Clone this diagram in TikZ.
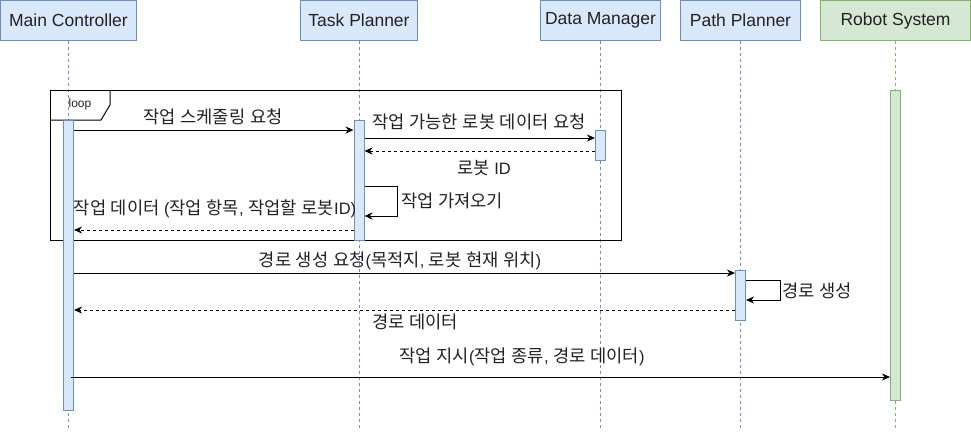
\documentclass[tikz,border=0pt]{standalone}
\usepackage{fontspec}
\setmainfont{Liberation Sans}
\newfontfamily\krfont[Scale=1.07]{Noto Sans CJK KR}
\usetikzlibrary{arrows.meta,calc}
\XeTeXinterchartokenstate=1
\newXeTeXintercharclass\KrClass
\count255="AC00
\loop\XeTeXcharclass\count255=\KrClass\ifnum\count255<"D7A3 \advance\count255 by 1 \repeat
\XeTeXinterchartoks 0 \KrClass={\begingroup\krfont}
\XeTeXinterchartoks 4095 \KrClass={\begingroup\krfont}
\XeTeXinterchartoks \KrClass 0={\endgroup}
\XeTeXinterchartoks \KrClass 4095={\endgroup}
\definecolor{fillblue}{HTML}{DAE8FC}
\definecolor{lineblue}{HTML}{6C8EBF}
\definecolor{fillgreen}{HTML}{D5E8D4}
\definecolor{linegreen}{HTML}{82B366}
\definecolor{txt}{HTML}{222222}
\begin{document}
\begin{tikzpicture}[x=1pt,y=-1pt,
 hdrblue/.style={draw=lineblue, fill=fillblue, line width=1pt, inner sep=0pt, anchor=north west, minimum height=40pt, font=\fontsize{17.5}{20}\selectfont, text=txt},
 hdrgreen/.style={hdrblue, draw=linegreen, fill=fillgreen},
 life/.style={draw=lineblue, line width=1pt, dash pattern=on 3pt off 3pt},
 lifegreen/.style={life, draw=linegreen},
 actblue/.style={draw=lineblue, fill=fillblue, line width=1pt, minimum width=10pt, inner sep=0pt, anchor=north},
 actgreen/.style={actblue, draw=linegreen, fill=fillgreen},
 msg/.style={draw=black, line width=1pt, -{Stealth[length=8pt,width=7pt,inset=2.5pt]}},
 ret/.style={msg, dash pattern=on 3pt off 3pt},
 lbl/.style={font=\fontsize{16.5}{18}\selectfont, inner sep=0pt, anchor=base, text=txt},
 frame/.style={draw=black, line width=1pt}
]
\useasboundingbox (0,0) rectangle (971,432);
% headers
\node[hdrblue, minimum width=136pt] (mc) at (0,0) {Main Controller};
\node[hdrblue, minimum width=117pt] (tp) at (300,0) {Task Planner};
\node[hdrblue, minimum width=120pt] (dm) at (540,0) {Data Manager};
\node[hdrblue, minimum width=120pt] (pp) at (680,0) {Path Planner};
\node[hdrgreen, minimum width=150pt] (rs) at (820,0) {Robot System};
\coordinate (bot) at (0,428);
% lifelines
\draw[life] (mc.south) -- (mc.south |- bot);
\draw[life] (tp.south) -- (tp.south |- bot);
\draw[life] (dm.south) -- (dm.south |- bot);
\draw[life] (pp.south) -- (pp.south |- bot);
\draw[lifegreen] (rs.south) -- (rs.south |- bot);
% loop frame
\node[frame, minimum width=571pt, minimum height=150pt, inner sep=0pt, anchor=north west] (loopf) at (50,90) {};
\draw[frame] (110,90) -- (110,105) -- (101,120) -- (50,120);
\node[font=\fontsize{12}{13}\selectfont, inner sep=0pt, text=txt] (looplbl) at (80,104) {loop};
% activations
\node[actblue, minimum height=290pt] (mcA) at (mc.south |- {(0,120)}) {};
\node[actblue, minimum height=120pt] (tpA) at (tp.south |- {(0,120)}) {};
\node[actblue, minimum height=30pt] (dmA) at (dm.south |- {(0,130)}) {};
\node[actblue, minimum height=50pt] (ppA) at (pp.south |- {(0,270)}) {};
\node[actgreen, minimum height=310pt] (rsA) at (rs.south |- {(0,90)}) {};
% message levels
\coordinate (y1) at (0,130);
\coordinate (y2) at (0,138);
\coordinate (y3) at (0,151);
\coordinate (s4a) at (397,186);
\coordinate (s4b) at (397,216);
\coordinate (y5) at (0,230);
\coordinate (y6) at (0,273);
\coordinate (s7a) at (780,280);
\coordinate (s7b) at (780,300);
\coordinate (y8) at (0,310);
\coordinate (y9) at (0,377);
% messages
\draw[msg] (mcA.east |- y1) -- (tpA.west |- y1);
\draw[msg] (tpA.east |- y2) -- (dmA.west |- y2);
\draw[ret] (dmA.west |- y3) -- (tpA.east |- y3);
\draw[msg] (tpA.east |- s4a) -- (s4a) -- (s4b) -- (tpA.east |- s4b);
\draw[ret] (tpA.west |- y5) -- (mcA.east |- y5);
\draw[msg] (mcA.east |- y6) -- (ppA.west |- y6);
\draw[msg] (ppA.east |- s7a) -- (s7a) -- (s7b) -- (ppA.east |- s7b);
\draw[ret] (ppA.west |- y8) -- (mcA.east |- y8);
\draw[msg] ($(mcA.center |- y9)+(2,0)$) -- (rsA.west |- y9);
% labels
\node[lbl] (l1) at (213,123) {작업 스케줄링 요청};
\node[lbl] (l2) at (479,128) {작업 가능한 로봇 데이터 요청};
\node[lbl] (l3) at (484,174) {로봇 ID};
\node[lbl, anchor=base west] (l4) at (401,207) {작업 가져오기};
\node[lbl] (l5) at (215,214) {작업 데이터 (작업 항목, 작업할 로봇ID)};
\node[lbl] (l6) at (400,266) {경로 생성 요청(목적지, 로봇 현재 위치)};
\node[lbl, anchor=base west] (l7) at (782,297) {경로 생성};
\node[lbl] (l8) at (415,328) {경로 데이터};
\node[lbl] (l9) at (522,362) {작업 지시(작업 종류, 경로 데이터)};
\end{tikzpicture}
\end{document}
